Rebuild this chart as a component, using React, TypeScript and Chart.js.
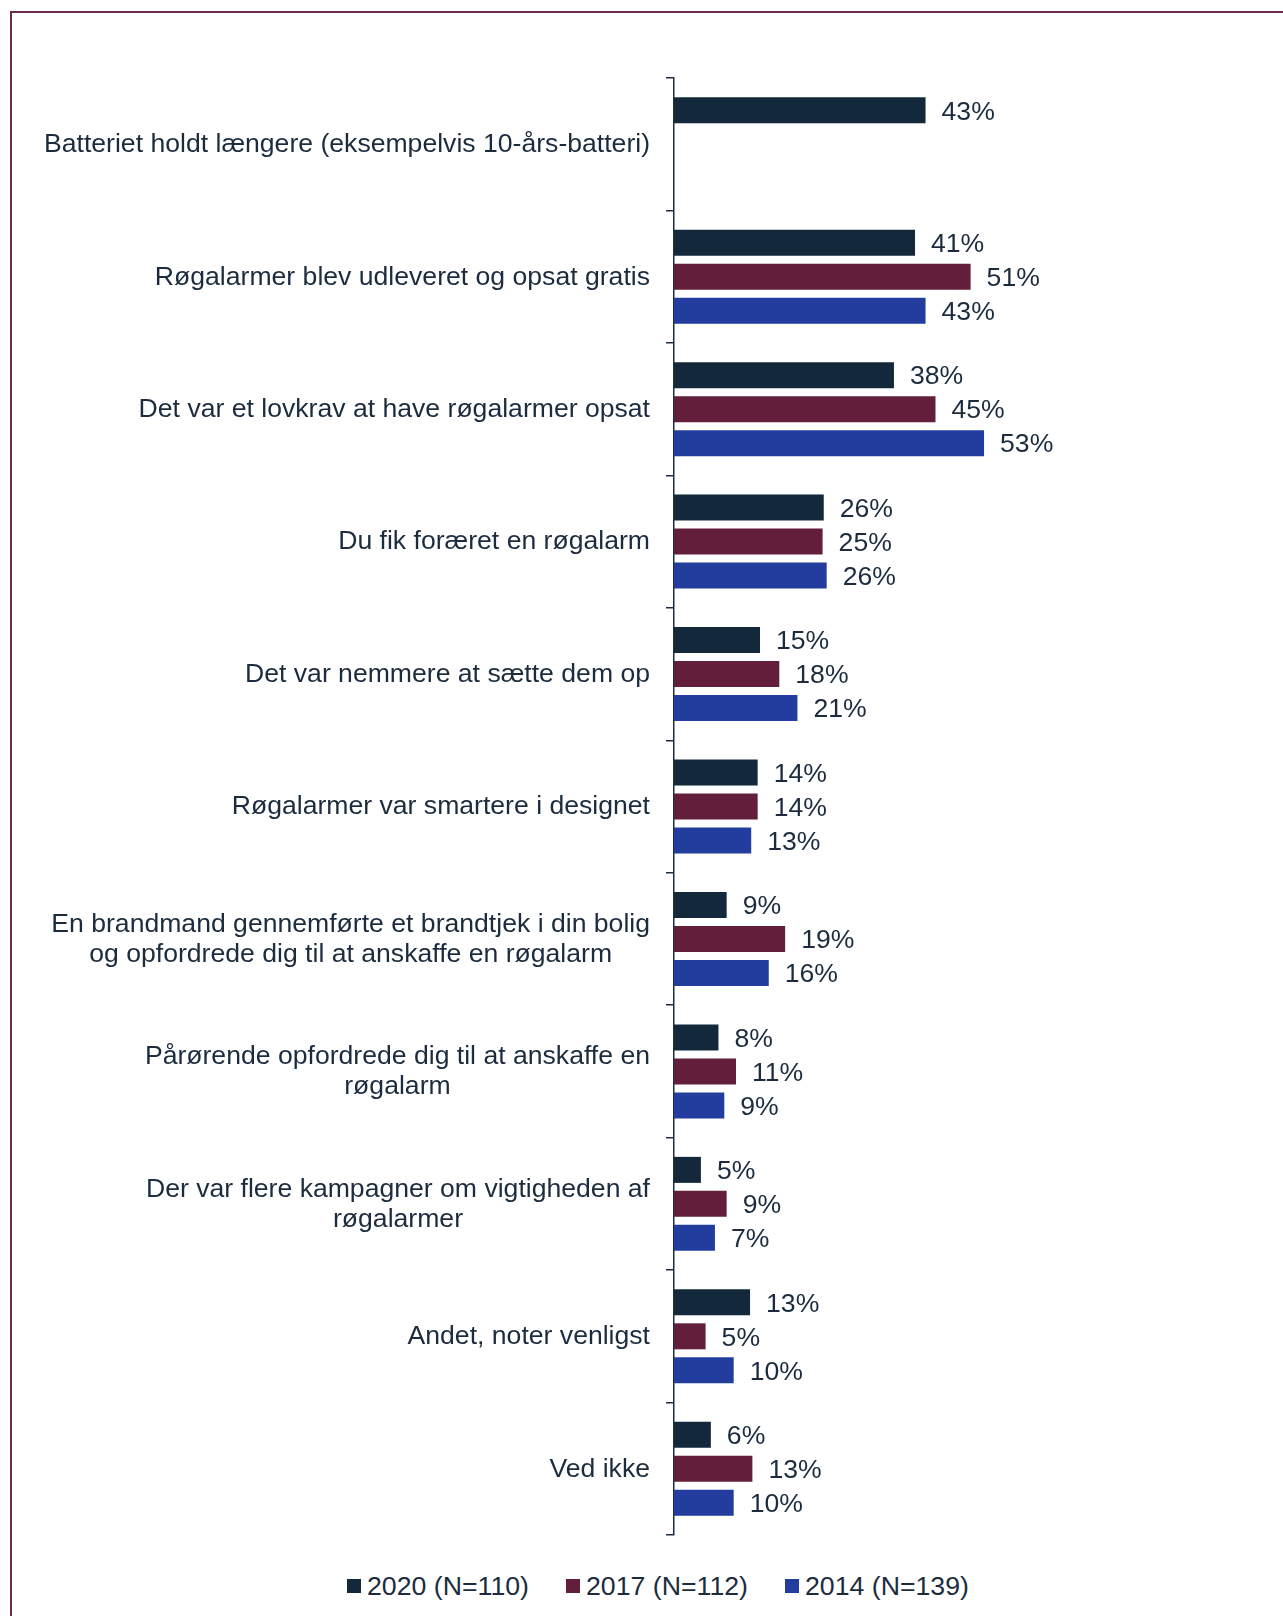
import React, { useEffect, useRef } from "react";
import { Chart, registerables } from "chart.js";

Chart.register(...registerables);

// ---- data ----
const categories: (string | string[])[] = [
  "Batteriet holdt længere (eksempelvis 10-års-batteri)",
  "Røgalarmer blev udleveret og opsat gratis",
  "Det var et lovkrav at have røgalarmer opsat",
  "Du fik foræret en røgalarm",
  "Det var nemmere at sætte dem op",
  "Røgalarmer var smartere i designet",
  ["En brandmand gennemførte et brandtjek i din bolig", "og opfordrede dig til at anskaffe en røgalarm"],
  ["Pårørende opfordrede dig til at anskaffe en", "røgalarm"],
  ["Der var flere kampagner om vigtigheden af", "røgalarmer"],
  "Andet, noter venligst",
  "Ved ikke",
];
const series2020: (number | null)[] = [43.0, 41.2, 37.6, 25.6, 14.7, 14.3, 9.0, 7.6, 4.6, 13.0, 6.3];
const series2017: (number | null)[] = [null, 50.7, 44.7, 25.4, 18.0, 14.3, 19.0, 10.6, 9.0, 5.4, 13.4];
const series2014: (number | null)[] = [null, 43.0, 53.0, 26.1, 21.1, 13.2, 16.2, 8.6, 7.0, 10.2, 10.2];
const seriesNames = ["2020 (N=110)", "2017 (N=112)", "2014 (N=139)"];

// ---- styles ----
const seriesColors = ["#14283c", "#631e3b", "#233d9f"];
const textColor = "#1c2c3e";
const axisColor = "#1e2d3f";
const frameColor = "#6e2a48";
const fontFamily = "'Liberation Sans', Arial, Helvetica, sans-serif";
const fontSize = 26.6;
const legendFontSize = 26.7;
const AXIS_X = 674;
const LABEL_GAP = 24;
const LINE_HEIGHT = 30;

const valueLabelPlugin = {
  id: "valueLabels",
  afterDatasetsDraw(chart: any) {
    const ctx = chart.ctx;
    ctx.save();
    ctx.font = `${fontSize}px ${fontFamily}`;
    ctx.fillStyle = textColor;
    ctx.textAlign = "left";
    ctx.textBaseline = "middle";
    chart.data.datasets.forEach((ds: any, di: number) => {
      const meta = chart.getDatasetMeta(di);
      meta.data.forEach((el: any, i: number) => {
        const v = ds.data[i];
        if (v === null || v === undefined) return;
        ctx.fillText(`${Math.round(v)}%`, el.x + 16, el.y + 2);
      });
    });
    ctx.restore();
  },
};

const categoryLabelPlugin = {
  id: "categoryLabels",
  afterDraw(chart: any) {
    const ctx = chart.ctx;
    const yScale = chart.scales.y;
    const right = yScale.right - LABEL_GAP;
    ctx.save();
    ctx.font = `${fontSize}px ${fontFamily}`;
    ctx.fillStyle = textColor;
    ctx.textAlign = "center";
    ctx.textBaseline = "middle";
    (chart.data.labels as (string | string[])[]).forEach((lab, i) => {
      const lines = Array.isArray(lab) ? lab : [lab];
      const maxW = Math.max(...lines.map((l) => ctx.measureText(l).width));
      const cx = right - maxW / 2;
      const cy = yScale.getPixelForValue(i) + 0.5;
      lines.forEach((l, j) => {
        ctx.fillText(l, cx, cy + (j - (lines.length - 1) / 2) * LINE_HEIGHT);
      });
    });
    ctx.restore();
  },
};

function BarChart() {
  const ref = useRef<HTMLCanvasElement | null>(null);
  useEffect(() => {
    if (!ref.current) return;
    const allSeries = [series2020, series2017, series2014];
    const chart = new Chart(ref.current, {
      type: "bar",
      data: {
        labels: categories as any,
        datasets: allSeries.map((s, i) => ({
          label: seriesNames[i],
          data: s,
          backgroundColor: seriesColors[i],
          borderWidth: 0,
          categoryPercentage: 0.77,
          barPercentage: 0.765,
        })),
      },
      options: {
        indexAxis: "y",
        animation: false,
        responsive: false,
        devicePixelRatio: 1,
        layout: { padding: { top: 78, bottom: 25, left: 0, right: 24 } },
        plugins: {
          legend: { display: false },
          tooltip: { enabled: false },
        },
        scales: {
          x: { display: false, min: 0, max: 100 },
          y: {
            display: true,
            afterFit: (scale: any) => {
              scale.width = AXIS_X;
            },
            ticks: { display: false },
            grid: {
              display: true,
              drawOnChartArea: false,
              drawTicks: true,
              tickLength: 8,
              color: axisColor,
              lineWidth: 1.5,
              offset: true,
            },
            border: { display: true, color: axisColor, width: 1.5 },
          },
        },
      } as any,
      plugins: [valueLabelPlugin, categoryLabelPlugin],
    });
    return () => chart.destroy();
  }, []);
  return (
    <canvas
      ref={ref}
      width={1283}
      height={1560}
      style={{ position: "absolute", left: 0, top: 0, width: 1283, height: 1560, display: "block" }}
    />
  );
}

const legendPositions = [347, 566, 785];

export default function App() {
  return (
    <div
      style={{
        position: "absolute",
        left: 0,
        top: 0,
        width: 1283,
        height: 1616,
        overflow: "hidden",
        background: "#ffffff",
        fontFamily,
      }}
    >
      <div
        style={{
          position: "absolute",
          left: 10,
          top: 11,
          width: 1400,
          height: 1800,
          borderLeft: `2px solid ${frameColor}`,
          borderTop: `2px solid ${frameColor}`,
        }}
      />
      <BarChart />
      {seriesNames.map((name, i) => (
        <div
          key={name}
          style={{
            position: "absolute",
            left: legendPositions[i],
            top: 1571,
            height: 30,
            display: "flex",
            alignItems: "center",
            whiteSpace: "nowrap",
          }}
        >
          <span
            style={{
              display: "inline-block",
              width: 14,
              height: 14,
              background: seriesColors[i],
              marginRight: 6,
            }}
          />
          <span style={{ fontSize: legendFontSize, lineHeight: "30px", color: textColor }}>{name}</span>
        </div>
      ))}
    </div>
  );
}
